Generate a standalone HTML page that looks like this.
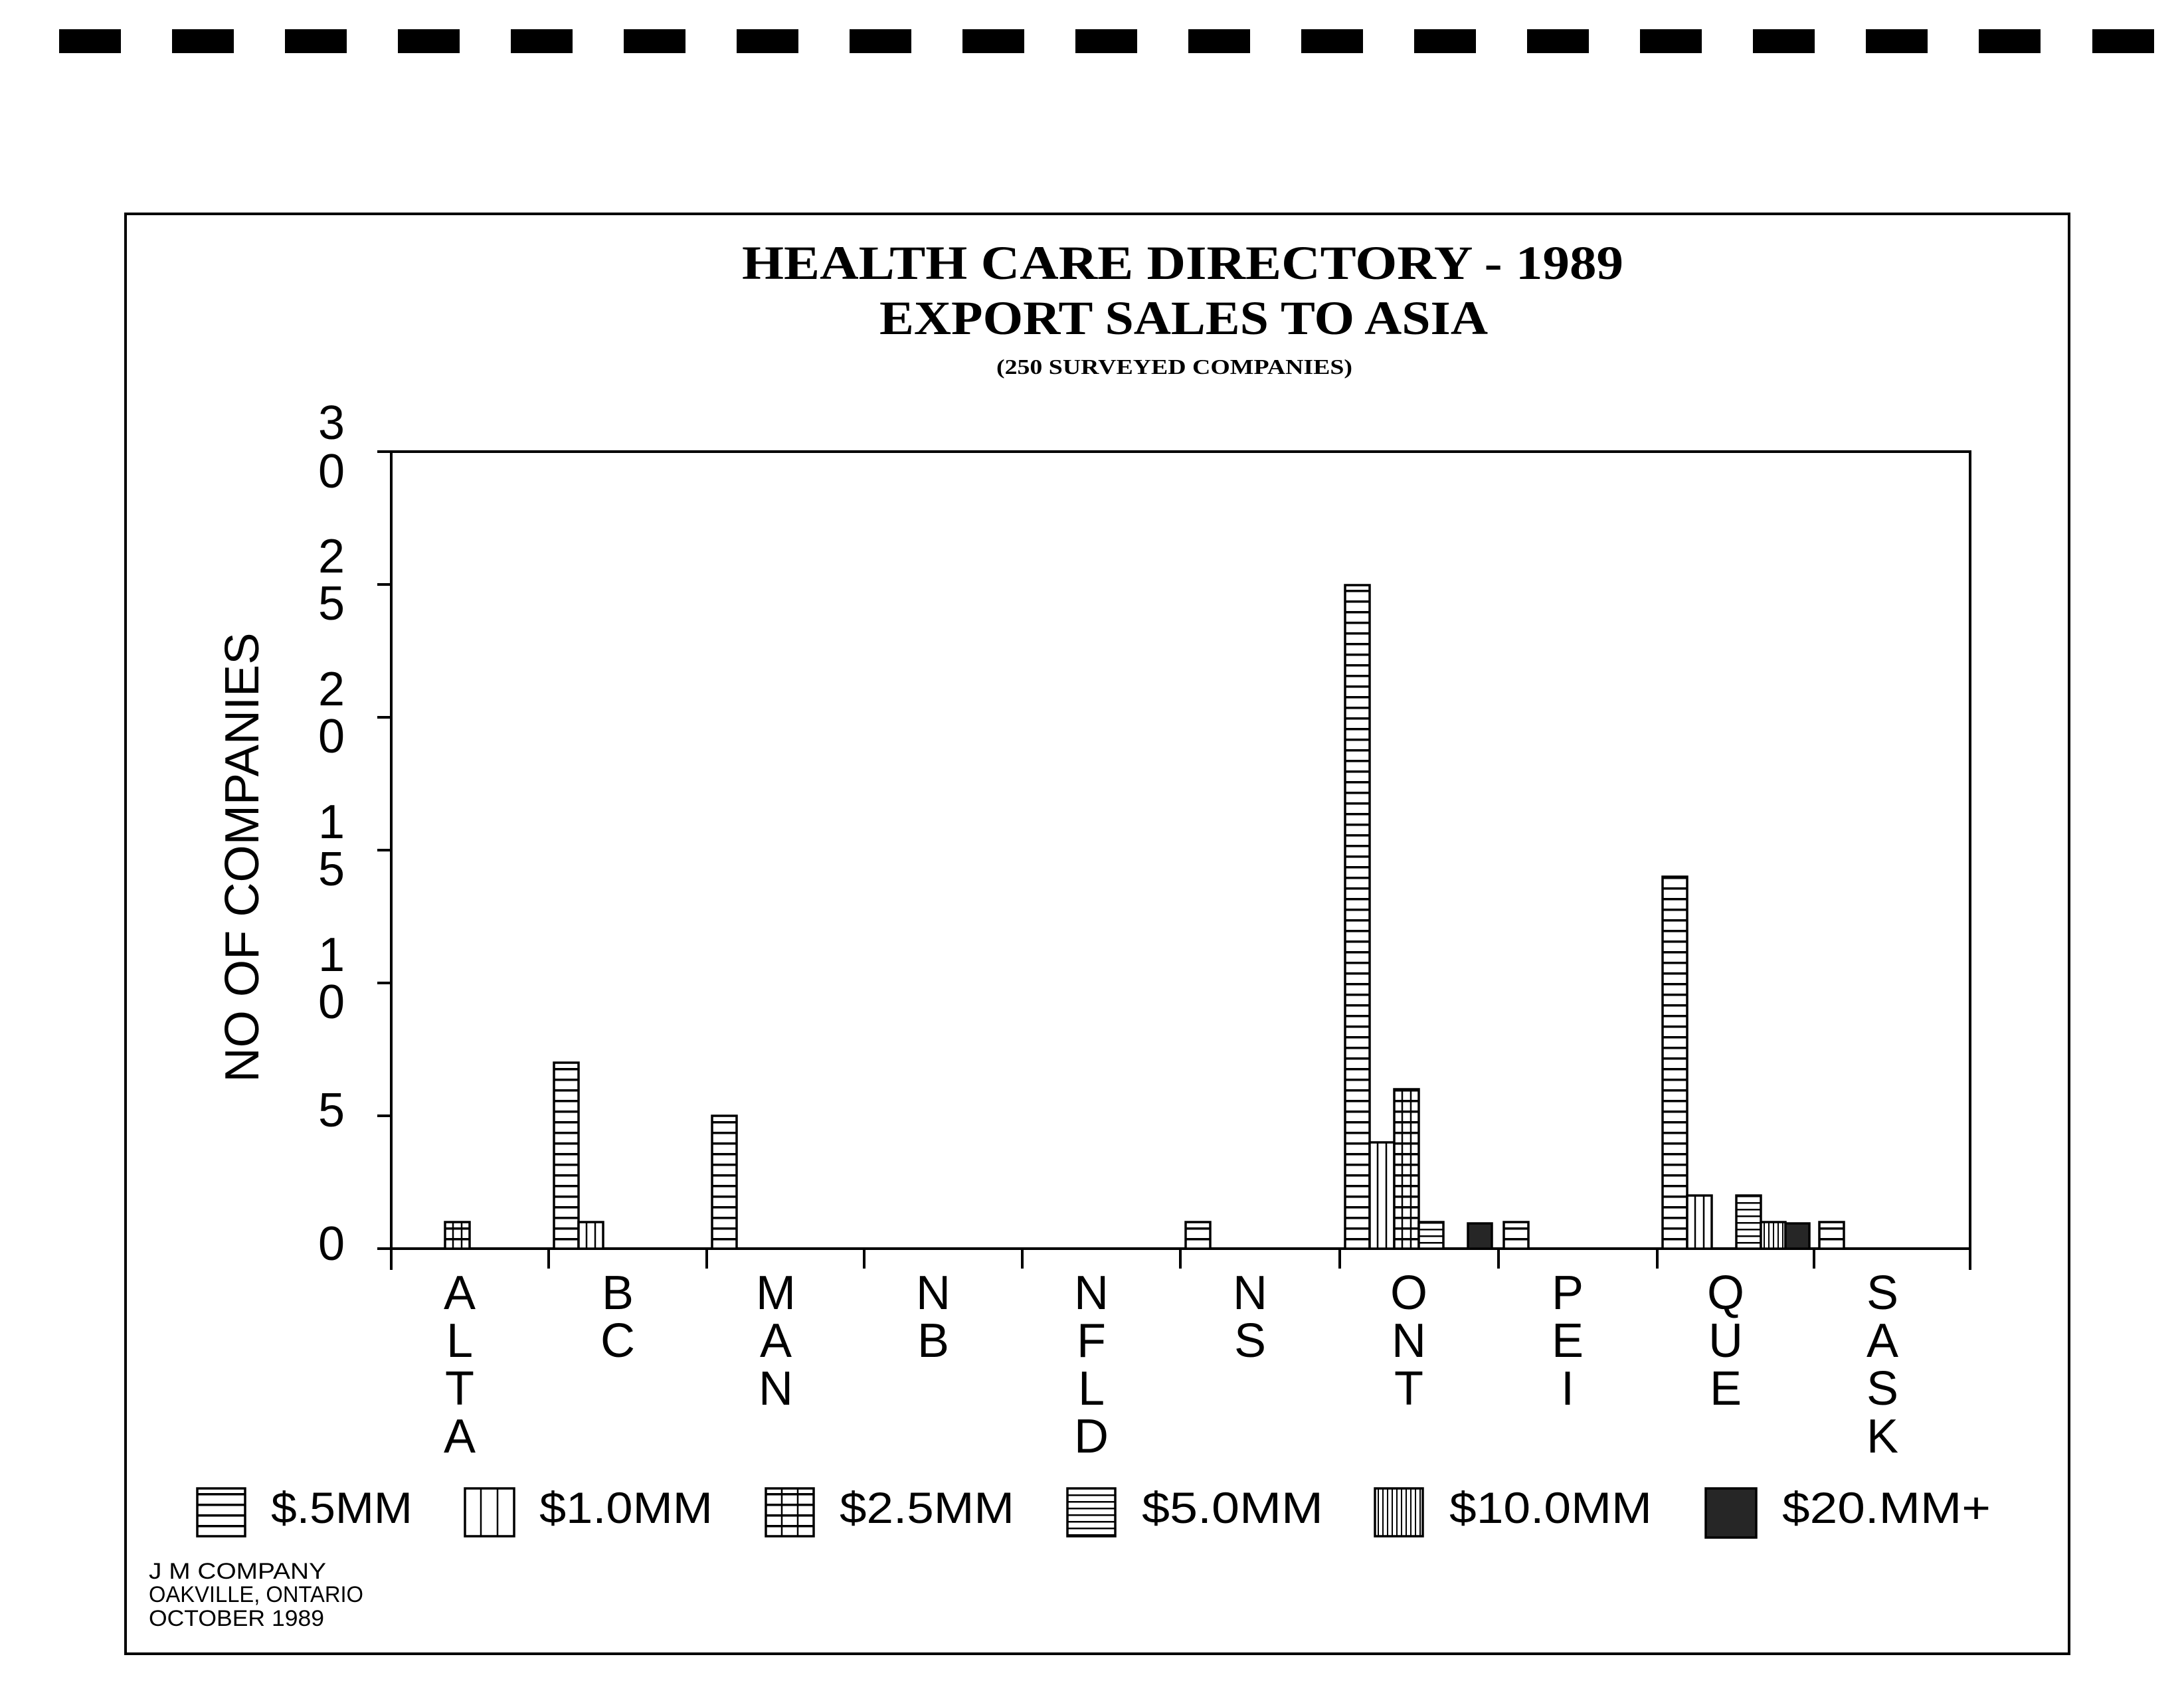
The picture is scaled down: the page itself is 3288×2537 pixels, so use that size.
<!DOCTYPE html>
<html><head><meta charset="utf-8"><style>html,body{margin:0;padding:0;background:#fff}svg{display:block}</style></head>
<body>
<svg width="3288" height="2537" viewBox="0 0 3288 2537" xmlns="http://www.w3.org/2000/svg">
<defs>
<pattern id="p0" patternUnits="userSpaceOnUse" x="0" y="1880" width="40" height="16"><rect width="40" height="16" fill="#fff"/><rect y="0" width="40" height="3.5" fill="#000"/></pattern>
<pattern id="p3" patternUnits="userSpaceOnUse" x="0" y="1880" width="40" height="10"><rect width="40" height="10" fill="#fff"/><rect y="0" width="40" height="2.5" fill="#000"/></pattern>
<pattern id="p4" patternUnits="userSpaceOnUse" x="2" y="0" width="7" height="40"><rect width="7" height="40" fill="#fff"/><rect x="0" width="2" height="40" fill="#000"/></pattern>
</defs>
<rect width="3288" height="2537" fill="#fff"/>
<g fill="#000">
<rect x="89" y="44" width="93" height="36"/><rect x="259" y="44" width="93" height="36"/><rect x="429" y="44" width="93" height="36"/><rect x="599" y="44" width="93" height="36"/><rect x="769" y="44" width="93" height="36"/><rect x="939" y="44" width="93" height="36"/><rect x="1109" y="44" width="93" height="36"/><rect x="1279" y="44" width="93" height="36"/><rect x="1449" y="44" width="93" height="36"/><rect x="1619" y="44" width="93" height="36"/><rect x="1789" y="44" width="93" height="36"/><rect x="1959" y="44" width="93" height="36"/><rect x="2129" y="44" width="93" height="36"/><rect x="2299" y="44" width="93" height="36"/><rect x="2469" y="44" width="93" height="36"/><rect x="2639" y="44" width="93" height="36"/><rect x="2809" y="44" width="93" height="36"/><rect x="2979" y="44" width="93" height="36"/><rect x="3150" y="44" width="93" height="36"/>
</g>
<rect x="189" y="322" width="2926" height="2168" fill="none" stroke="#000" stroke-width="4"/>
<g font-family="'Liberation Serif',serif" font-weight="bold" fill="#000">
<text x="1117" y="420" font-size="72" textLength="1327" lengthAdjust="spacingAndGlyphs">HEALTH  CARE  DIRECTORY  -  1989</text>
<text x="1324" y="503" font-size="72" textLength="916" lengthAdjust="spacingAndGlyphs">EXPORT  SALES  TO  ASIA</text>
<text x="1500" y="563" font-size="32" textLength="536" lengthAdjust="spacingAndGlyphs">(250  SURVEYED  COMPANIES)</text>
</g>
<!-- plot frame -->
<g stroke="#000" stroke-width="4" fill="none">
<line x1="568" y1="680" x2="2968" y2="680"/>
<line x1="589" y1="678" x2="589" y2="1912"/>
<line x1="2966" y1="678" x2="2966" y2="1912"/>
<line x1="568" y1="1880" x2="2968" y2="1880"/>
<line x1="568" y1="880" x2="589" y2="880"/><line x1="568" y1="1080" x2="589" y2="1080"/><line x1="568" y1="1280" x2="589" y2="1280"/><line x1="568" y1="1480" x2="589" y2="1480"/><line x1="568" y1="1680" x2="589" y2="1680"/>
<line x1="826" y1="1880" x2="826" y2="1910"/><line x1="1064" y1="1880" x2="1064" y2="1910"/><line x1="1301" y1="1880" x2="1301" y2="1910"/><line x1="1539" y1="1880" x2="1539" y2="1910"/><line x1="1777" y1="1880" x2="1777" y2="1910"/><line x1="2017" y1="1880" x2="2017" y2="1910"/><line x1="2256" y1="1880" x2="2256" y2="1910"/><line x1="2495" y1="1880" x2="2495" y2="1910"/><line x1="2731" y1="1880" x2="2731" y2="1910"/>
</g>
<!-- y labels -->
<g font-family="'Liberation Sans',sans-serif" font-size="72" fill="#000" text-anchor="middle">
<text x="499" y="661">3</text><text x="499" y="734">0</text>
<text x="499" y="862">2</text><text x="499" y="933">5</text>
<text x="499" y="1062">2</text><text x="499" y="1133">0</text>
<text x="499" y="1262">1</text><text x="499" y="1333">5</text>
<text x="499" y="1462">1</text><text x="499" y="1533">0</text>
<text x="499" y="1696">5</text>
<text x="499" y="1897">0</text>
<text transform="translate(389,1291) rotate(-90)" textLength="677" lengthAdjust="spacingAndGlyphs">NO OF COMPANIES</text>
</g>
<!-- bars -->
<g stroke="#000" stroke-width="3.5">
<!-- $.5MM -->
<rect x="834" y="1600" width="37" height="280" fill="url(#p0)"/>
<rect x="1072" y="1680" width="37" height="200" fill="url(#p0)"/>
<rect x="1785" y="1840" width="37" height="40" fill="url(#p0)"/>
<rect x="2025" y="881" width="37" height="999" fill="url(#p0)"/>
<rect x="2264" y="1840" width="37" height="40" fill="url(#p0)"/>
<rect x="2503" y="1320" width="37" height="560" fill="url(#p0)"/>
<rect x="2739" y="1840" width="37" height="40" fill="url(#p0)"/>
<!-- $1.0MM -->
<rect x="871" y="1840" width="37" height="40" fill="#fff"/>
<rect x="2062" y="1720" width="37" height="160" fill="#fff"/>
<rect x="2540" y="1800" width="37" height="80" fill="#fff"/>
<!-- $2.5MM -->
<rect x="670" y="1840" width="37" height="40" fill="url(#p0)"/>
<rect x="2099" y="1640" width="37" height="240" fill="url(#p0)"/>
<!-- $5.0MM -->
<rect x="2136" y="1840" width="37" height="40" fill="url(#p3)"/>
<rect x="2614" y="1800" width="37" height="80" fill="url(#p3)"/>
<!-- $10MM -->
<rect x="2651" y="1840" width="37" height="40" fill="url(#p4)"/>
<!-- $20MM+ -->
<rect x="2210" y="1842" width="36" height="38" fill="#262626"/>
<rect x="2688" y="1842" width="36" height="38" fill="#262626"/>
</g>
<g stroke="#000" stroke-width="2.5">
<line x1="883" y1="1840" x2="883" y2="1880"/><line x1="896" y1="1840" x2="896" y2="1880"/>
<line x1="2074" y1="1720" x2="2074" y2="1880"/><line x1="2087" y1="1720" x2="2087" y2="1880"/>
<line x1="2552" y1="1800" x2="2552" y2="1880"/><line x1="2565" y1="1800" x2="2565" y2="1880"/>
<line x1="682" y1="1840" x2="682" y2="1880"/><line x1="695" y1="1840" x2="695" y2="1880"/>
<line x1="2111" y1="1640" x2="2111" y2="1880"/><line x1="2124" y1="1640" x2="2124" y2="1880"/>
</g>
<!-- category labels -->
<g font-family="'Liberation Sans',sans-serif" font-size="72" fill="#000" text-anchor="middle">
<text x="692" y="1971">A</text><text x="692" y="2043">L</text><text x="692" y="2115">T</text><text x="692" y="2187">A</text>
<text x="930" y="1971">B</text><text x="930" y="2043">C</text>
<text x="1168" y="1971">M</text><text x="1168" y="2043">A</text><text x="1168" y="2115">N</text>
<text x="1405" y="1971">N</text><text x="1405" y="2043">B</text>
<text x="1643" y="1971">N</text><text x="1643" y="2043">F</text><text x="1643" y="2115">L</text><text x="1643" y="2187">D</text>
<text x="1882" y="1971">N</text><text x="1882" y="2043">S</text>
<text x="2121" y="1971">O</text><text x="2121" y="2043">N</text><text x="2121" y="2115">T</text>
<text x="2360" y="1971">P</text><text x="2360" y="2043">E</text><text x="2360" y="2115">I</text>
<text x="2598" y="1971">Q</text><text x="2598" y="2043">U</text><text x="2598" y="2115">E</text>
<text x="2834" y="1971">S</text><text x="2834" y="2043">A</text><text x="2834" y="2115">S</text><text x="2834" y="2187">K</text>
</g>
<!-- legend -->
<g stroke="#000" stroke-width="3.5">
<rect x="297" y="2241" width="72" height="72" fill="url(#p0)"/>
<rect x="700" y="2241" width="74" height="72" fill="#fff"/>
<rect x="1153" y="2241" width="72" height="72" fill="url(#p0)"/>
<rect x="1607" y="2241" width="72" height="72" fill="url(#p3)"/>
<rect x="2070" y="2241" width="72" height="72" fill="url(#p4)"/>
<rect x="2568" y="2241" width="76" height="74" fill="#262626"/>
</g>
<g stroke="#000" stroke-width="2.5">
<line x1="724" y1="2241" x2="724" y2="2313"/><line x1="749" y1="2241" x2="749" y2="2313"/>
<line x1="1177" y1="2241" x2="1177" y2="2313"/><line x1="1201" y1="2241" x2="1201" y2="2313"/>
</g>
<g font-family="'Liberation Sans',sans-serif" font-size="66" fill="#000">
<text x="408" y="2293" textLength="213" lengthAdjust="spacingAndGlyphs">$.5MM</text>
<text x="812" y="2293" textLength="261" lengthAdjust="spacingAndGlyphs">$1.0MM</text>
<text x="1264" y="2293" textLength="263" lengthAdjust="spacingAndGlyphs">$2.5MM</text>
<text x="1719" y="2293" textLength="273" lengthAdjust="spacingAndGlyphs">$5.0MM</text>
<text x="2182" y="2293" textLength="305" lengthAdjust="spacingAndGlyphs">$10.0MM</text>
<text x="2683" y="2293" textLength="314" lengthAdjust="spacingAndGlyphs">$20.MM+</text>
</g>
<g font-family="'Liberation Sans',sans-serif" font-size="34" fill="#000">
<text x="224" y="2377" textLength="267" lengthAdjust="spacingAndGlyphs">J  M    COMPANY</text>
<text x="224" y="2412" textLength="323" lengthAdjust="spacingAndGlyphs">OAKVILLE, ONTARIO</text>
<text x="224" y="2448" textLength="264" lengthAdjust="spacingAndGlyphs">OCTOBER  1989</text>
</g>
</svg>
</body></html>
